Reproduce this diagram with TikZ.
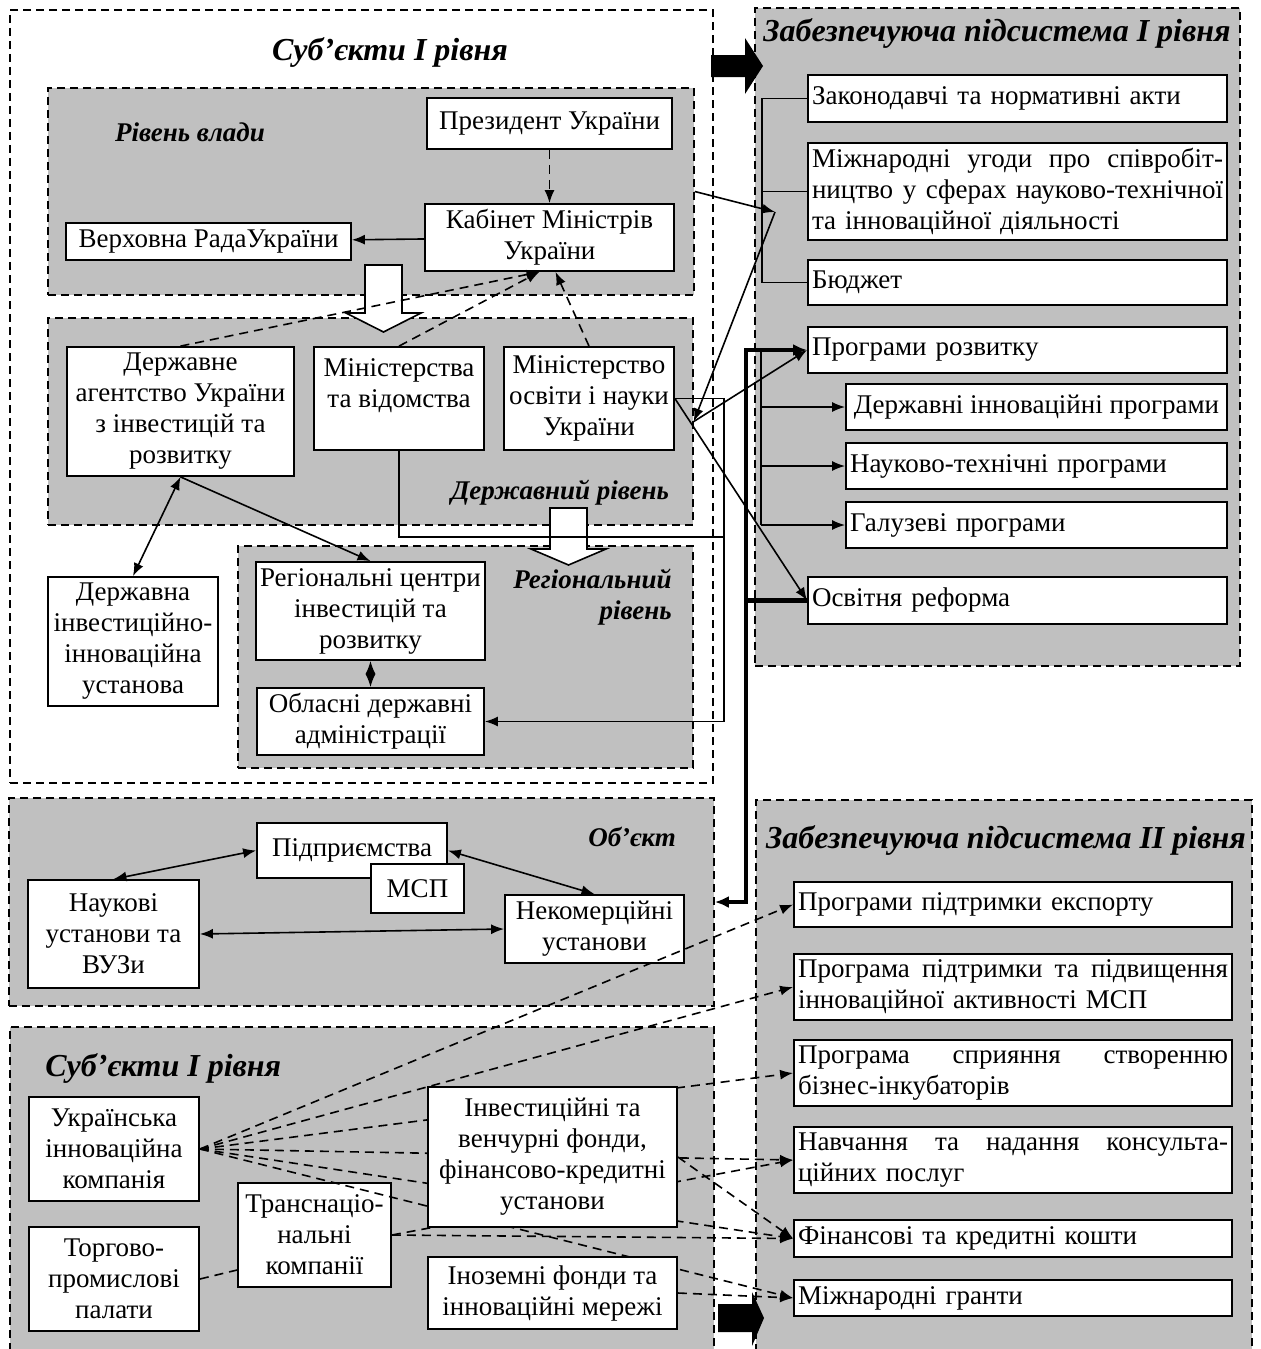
\documentclass[tikz,border=0pt]{standalone}
\usepackage{fontspec}
\setmainfont{Liberation Serif}
\usetikzlibrary{arrows.meta,fit}
\definecolor{panelgray}{RGB}{192,192,192}
\newcommand{\bodyfont}{\fontsize{13.5pt}{15.5pt}\selectfont}
\newcommand{\headfont}{\fontsize{16pt}{18pt}\selectfont\bfseries\itshape}
\newcommand{\labfont}{\fontsize{13.5pt}{15.5pt}\selectfont\bfseries\itshape}
\newcommand{\jst}[2]{\leavevmode\hbox to #1{#2}}
\tikzset{
  box/.style={draw, fill=white, line width=0.9pt, inner sep=2pt, align=center, font=\bodyfont},
  lbox/.style={box, align=left, text width=#1},
  outer/.style={draw, fill=white, line width=0.8pt, dash pattern=on 4pt off 2.5pt, inner sep=0pt},
  panel/.style={outer, fill=panelgray},
  headtxt/.style={font=\headfont, inner sep=0pt},
  labtxt/.style={font=\labfont, inner sep=0pt},
  conn/.style={line width=0.8pt},
  arr/.style={conn, -{Latex[length=6.5pt,width=5pt]}},
  darr/.style={arr, dash pattern=on 4.5pt off 3pt},
  dconn/.style={conn, dash pattern=on 4.5pt off 3pt},
  dblarr/.style={conn, {Latex[length=6.5pt,width=5pt]}-{Latex[length=6.5pt,width=5pt]}},
  bus/.style={line width=2.2pt, {Latex[length=7pt,width=6pt]}-{Latex[length=7pt,width=6pt]}}
}
\begin{document}
\begin{tikzpicture}[x=0.5pt, y=-0.5pt]
\clip (0,0) rectangle (1260,1349);

\node[outer, fit={(10,10) (713,783)}] (subj) {};
\node[panel, fit={(48,88) (694,295)}] (vlada) {};
\node[panel, fit={(48,318) (693,525)}] (derzh) {};
\node[panel, fit={(238,546) (693,768)}] (region) {};
\node[panel, fit={(755,8) (1240,666)}] (supone) {};
\node[panel, fit={(9,798) (714,1006)}] (obj) {};
\node[panel, fit={(10,1027) (714,1370)}] (subjtwo) {};
\node[panel, fit={(756,800) (1252,1370)}] (suptwo) {};

\node[headtxt] (t1) at (390,52) {Суб’єкти І рівня};
\node[labtxt] (l1) at (190,132) {Рівень влади};
\node[labtxt] (l2) at (560,493) {Державний рівень};
\node[labtxt, align=right, anchor=east] (l3) at (672,597) {Регіональний\\рівень};
\node[labtxt] (l4) at (632,837) {Об’єкт};
\node[headtxt, anchor=west] (t2) at (45,1068) {Суб’єкти І рівня};
\node[headtxt] (t3) at (997,33) {Забезпечуюча підсистема І рівня};
\node[headtxt] (t4) at (1006,840) {Забезпечуюча підсистема ІІ рівня};

\filldraw[fill=white, line width=0.8pt] (365,265) -- (402,265) -- (402,313) -- (421,313) -- (383.5,332) -- (346,313) -- (365,313) -- cycle;
\filldraw[fill=white, line width=0.8pt] (550,508) -- (587,508) -- (587,549) -- (606,549) -- (568.5,565) -- (531,549) -- (550,549) -- cycle;
\fill (711,55) -- (745,55) -- (745,38) -- (763,66) -- (745,94) -- (745,77) -- (711,77) -- cycle;
\fill (718,1304) -- (752,1304) -- (752,1292) -- (764,1318) -- (752,1346) -- (752,1332) -- (718,1332) -- cycle;

\node[box, minimum width=122.5pt, minimum height=25.5pt] (prez) at (549.5,123.5) {Президент України};
\node[box, minimum width=124.5pt, minimum height=33.5pt] (kabmin) at (549.5,237.5) {Кабінет Міністрів\\України};
\node[box, minimum width=142.5pt, minimum height=18.5pt] (rada) at (208.5,241.5) {Верховна РадаУкраїни};
\node[box, minimum width=113.5pt, minimum height=64.5pt] (agency) at (180.5,411.5) {Державне\\агентство України\\з інвестицій та\\розвитку};
\node[box, minimum width=85pt, minimum height=51.5pt] (minvid) at (399,398.5) {Міністерства\\та відомства\\\mbox{}};
\node[box, minimum width=85pt, minimum height=51.5pt] (mon) at (589,398.5) {Міністерство\\освіти і науки\\України};
\node[box, minimum width=113.5pt, minimum height=49pt] (regcent) at (370.5,611) {Регіональні центри\\інвестицій та\\розвитку};
\node[box, minimum width=113.5pt, minimum height=33.5pt] (oda) at (370.5,721.5) {Обласні державні\\адміністрації};
\node[box, minimum width=85pt, minimum height=64.5pt] (dinv) at (133,641.5) {Державна\\інвестиційно-\\інноваційна\\установа};

\node[lbox=205.5pt, minimum height=23.5pt] (acts) at (1017.5,98.5) {Законодавчі та нормативні акти};
\node[lbox=205.5pt, minimum height=48.5pt] (agree) at (1017.5,191.5) {\jst{205.5pt}{Міжнародні\hfill угоди\hfill про\hfill співробіт-}\\\jst{205.5pt}{ництво\hfill у\hfill сферах\hfill науково-технічної}\\та інноваційної діяльності};
\node[lbox=205.5pt, minimum height=22.5pt] (budget) at (1017.5,282.5) {Бюджет};
\node[lbox=205.5pt, minimum height=23pt] (progs) at (1017.5,350) {Програми розвитку};
\node[box, minimum width=190.5pt, minimum height=23pt] (stprog) at (1036.5,407) {Державні інноваційні програми};
\node[lbox=186.5pt, minimum height=23pt] (sciprog) at (1036.5,466) {Науково-технічні програми};
\node[lbox=186.5pt, minimum height=23pt] (indprog) at (1036.5,525) {Галузеві програми};
\node[lbox=205.5pt, minimum height=23.5pt] (reform) at (1017.5,600.5) {Освітня реформа};

\node[box, minimum width=95pt, minimum height=27.5pt] (firms) at (352,850.5) {Підприємства};
\node[box, minimum width=46.5pt, minimum height=24.5pt] (sme) at (417.5,888.5) {МСП};
\node[box, minimum width=85.5pt, minimum height=54pt] (sci) at (113.5,934) {Наукові\\установи та\\ВУЗи};
\node[box, minimum width=89.5pt, minimum height=34pt] (nonprof) at (594.5,929) {Некомерційні\\установи};

\node[lbox=215pt, minimum height=22.5pt] (export) at (1013,904.5) {Програми підтримки експорту};
\node[lbox=215pt, minimum height=33pt] (smeprog) at (1013,987) {\jst{215pt}{Програма\hfill підтримки\hfill та\hfill підвищення}\\інноваційної активності МСП};
\node[lbox=215pt, minimum height=33pt] (incub) at (1013,1073) {\jst{215pt}{Програма\hfill сприяння\hfill створенню}\\бізнес-інкубаторів};
\node[lbox=215pt, minimum height=33pt] (consult) at (1013,1160) {\jst{215pt}{Навчання\hfill та\hfill надання\hfill консульта-}\\ційних послуг};
\node[lbox=215pt, minimum height=18.5pt] (funds) at (1013,1238.5) {Фінансові та кредитні кошти};
\node[lbox=215pt, minimum height=18pt] (grants) at (1013,1298) {Міжнародні гранти};

\node[box, minimum width=85pt, minimum height=52pt] (uic) at (114,1149) {Українська\\інноваційна\\компанія};
\node[box, minimum width=85pt, minimum height=52pt] (chamb) at (114,1279) {Торгово-\\промислові\\палати};
\node[box, minimum width=76.5pt, minimum height=52pt] (tnc) at (314.5,1235) {Транснаціо-\\нальні\\компанії};

\draw[darr] (prez) -- (kabmin);
\draw[arr] (kabmin) -- (rada);
\draw[darr] (agency.north) -- ([xshift=-5pt]kabmin.south);
\draw[darr] (minvid.north) -- ([xshift=-5pt]kabmin.south);
\draw[darr] (mon.north) -- ([xshift=3pt]kabmin.south);
\draw[dblarr] (agency.south) -- (dinv.north);
\draw[arr] (agency.south) -- (regcent.north);
\draw[dblarr] (regcent) -- (oda);
\coordinate (jn) at (723,537);
\draw[conn] (minvid.south) |- (jn);
\draw[arr] (mon.east) -- ++(49,0) |- (oda.east);
\coordinate (brk) at (775,212);
\draw[arr] (vlada.east) -- (brk);
\draw[arr] (brk) -- (derzh.east);
\draw[arr] (derzh.east) -- (progs.west);
\draw[arr] (mon.east) -- (reform.west);

\coordinate (lb) at (762,98.5);
\draw[conn] (acts.west) -- (lb) -- (lb |- budget.west) -- (budget.west);
\draw[conn] (lb |- agree.west) -- (agree.west);
\coordinate (bt) at (746,350);
\draw[bus] (progs.west) -- (bt) |- (obj.east);
\draw[line width=2.2pt] (reform.west) -- (reform.west -| bt);
\coordinate (pb) at (761,350);
\draw[conn] (pb) -- (pb |- indprog.west);
\foreach \p in {stprog, sciprog, indprog}
  \draw[arr] (pb |- \p.west) -- (\p.west);

\draw[dblarr] (sci.north) -- (firms.west);
\draw[dblarr] (firms.east) -- (nonprof.north);
\draw[dblarr] (sci.east) -- (nonprof.west);

\foreach \t in {export, smeprog, incub, consult, funds, grants}
  \draw[darr] (uic.east) -- (\t.west);
\draw[darr] (tnc.east) -- (consult.west);

\node[box, minimum width=124.5pt, minimum height=70pt] (venture) at (552.5,1157) {Інвестиційні та\\венчурні фонди,\\фінансово-кредитні\\установи};
\node[box, minimum width=124.5pt, minimum height=36pt] (foreign) at (552.5,1293) {Іноземні фонди та\\інноваційні мережі};

\draw[darr] (tnc.east) -- (funds.west);
\draw[darr] (venture.east) -- (funds.west);
\draw[darr] (foreign.east) -- (grants.west);
\draw[dconn] (chamb.east) -- ([yshift=-17.5pt]tnc.west);
\end{tikzpicture}
\end{document}
